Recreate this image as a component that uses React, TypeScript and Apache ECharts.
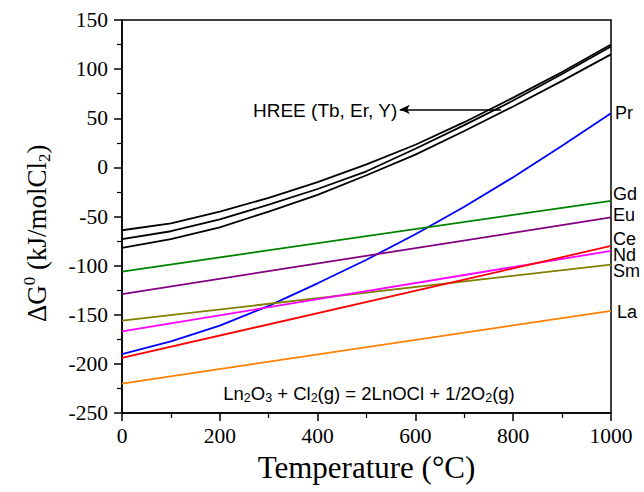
import React, { useEffect, useRef } from "react";
import * as echarts from "echarts";

const temps = [0, 100, 200, 300, 400, 500, 600, 700, 800, 900, 1000];
const hreeA = [-64, -57, -45, -31, -15, 3, 23, 46, 71, 97, 125];
const hreeB = [-73, -65, -53, -38, -22, -4, 19, 43, 68, 95, 123];
const hreeC = [-82, -73, -61, -45, -28, -8, 13, 37, 62, 88, 115];
const prVals = [-190, -177, -161, -141, -118, -94, -68, -40, -10, 22, 55];

const endTemps = [0, 1000];
const gdVals = [-106, -34];
const euVals = [-129, -51];
const smVals = [-156, -99];
const ndVals = [-167, -85];
const ceVals = [-194, -80];
const laVals = [-220, -146];

const arrowFrom = [775, 59];
const arrowTo = [568, 59];

const SERIF = "'Liberation Serif', 'Times New Roman', serif";
const SANS = "'Liberation Sans', Arial, sans-serif";

function pairs(xs: number[], ys: number[]) {
  return xs.map((x, i) => [x, ys[i]]);
}

function lineSeries(name: string, xs: number[], ys: number[], color: string, extra: any = {}) {
  return {
    name,
    type: "line",
    data: pairs(xs, ys),
    symbol: "none",
    smooth: false,
    lineStyle: { color, width: 1.8 },
    itemStyle: { color },
    z: 3,
    ...extra,
  };
}

export default function App() {
  const ref = useRef<HTMLDivElement>(null);
  useEffect(() => {
    if (!ref.current) return;
    document.body.style.margin = "0";
    const chart = echarts.init(ref.current, undefined, { renderer: "svg" });
    const rightLabels = [
      { t: "Pr", x: 615, y: 113 },
      { t: "Gd", x: 613, y: 194 },
      { t: "Eu", x: 613, y: 215 },
      { t: "Ce", x: 613, y: 239 },
      { t: "Nd", x: 613, y: 255 },
      { t: "Sm", x: 613, y: 271 },
      { t: "La", x: 617, y: 312 },
    ];
    chart.setOption({
      animation: false,
      backgroundColor: "#ffffff",
      grid: {
        left: 122,
        right: 33,
        top: 20,
        bottom: 79,
        show: true,
        borderColor: "#000",
        borderWidth: 1.5,
        backgroundColor: "transparent",
      },
      xAxis: {
        type: "value",
        min: 0,
        max: 1000,
        interval: 200,
        name: "Temperature (°C)",
        nameLocation: "middle",
        nameGap: 39,
        nameTextStyle: { fontFamily: SERIF, fontSize: 31, color: "#000" },
        axisLine: { show: true, onZero: false, lineStyle: { color: "#000", width: 1.5 } },
        axisTick: { show: true, inside: false, length: 8, lineStyle: { color: "#000", width: 1.5 } },
        minorTick: { show: true, splitNumber: 2, length: 5, lineStyle: { color: "#000", width: 1.2 } },
        axisLabel: {
          fontFamily: SERIF,
          fontSize: 21.5,
          color: "#000",
          margin: 12,
          formatter: (v: number) => String(v),
        },
        splitLine: { show: false },
      },
      yAxis: {
        type: "value",
        min: -250,
        max: 150,
        interval: 50,
        axisLine: { show: true, onZero: false, lineStyle: { color: "#000", width: 1.5 } },
        axisTick: { show: true, inside: false, length: 8, lineStyle: { color: "#000", width: 1.5 } },
        minorTick: { show: true, splitNumber: 2, length: 5, lineStyle: { color: "#000", width: 1.2 } },
        axisLabel: {
          fontFamily: SERIF,
          fontSize: 21.5,
          color: "#000",
          margin: 14,
          formatter: (v: number) => String(v),
        },
        splitLine: { show: false },
      },
      series: [
        lineSeries("HREE A", temps, hreeA, "#000000", {
          markLine: {
            silent: true,
            symbol: ["none", "arrow"],
            symbolSize: [7, 10],
            label: { show: false },
            lineStyle: { color: "#000", width: 1.5, type: "solid" },
            data: [[{ coord: arrowFrom }, { coord: arrowTo }]],
          },
        }),
        lineSeries("HREE B", temps, hreeB, "#000000"),
        lineSeries("HREE C", temps, hreeC, "#000000"),
        lineSeries("Pr", temps, prVals, "#0000ff"),
        lineSeries("Gd", endTemps, gdVals, "#008000"),
        lineSeries("Eu", endTemps, euVals, "#800080"),
        lineSeries("Sm", endTemps, smVals, "#808000"),
        lineSeries("Nd", endTemps, ndVals, "#ff00ff"),
        lineSeries("Ce", endTemps, ceVals, "#ff0000"),
        lineSeries("La", endTemps, laVals, "#ff8000"),
      ],
      graphic: [
        {
          type: "text",
          x: 37,
          y: 322,
          rotation: Math.PI / 2,
          style: {
            text: "{a|ΔG}{sup|0}{a| (kJ/molCl}{sub|2}{a|)}",
            textAlign: "left",
            textVerticalAlign: "middle",
            rich: {
              a: { fontFamily: SERIF, fontSize: 27, fill: "#000" },
              sup: { fontFamily: SERIF, fontSize: 17, fill: "#000", padding: [0, 0, 16, 0] },
              sub: { fontFamily: SERIF, fontSize: 17, fill: "#000", padding: [14, 0, 0, 0] },
            },
          },
          z: 10,
        },
        ...rightLabels.map((l) => ({
          type: "text",
          x: l.x,
          y: l.y,
          style: {
            text: l.t,
            font: `18px ${SANS}`,
            fill: "#000",
            textAlign: "left",
            textVerticalAlign: "middle",
          },
          z: 10,
        })),
        {
          type: "text",
          x: 253,
          y: 110,
          style: {
            text: "HREE (Tb, Er, Y)",
            font: `19px ${SANS}`,
            fill: "#000",
            textAlign: "left",
            textVerticalAlign: "middle",
          },
          z: 10,
        },
        {
          type: "text",
          x: 369,
          y: 393,
          style: {
            text: "{a|Ln}{s|2}{a|O}{s|3}{a| + Cl}{s|2}{a|(g) = 2LnOCl + 1/2O}{s|2}{a|(g)}",
            textAlign: "center",
            textVerticalAlign: "middle",
            rich: {
              a: { fontFamily: SANS, fontSize: 18.5, fill: "#000" },
              s: { fontFamily: SANS, fontSize: 12.5, fill: "#000", padding: [10, 0, 0, 0] },
            },
          },
          z: 10,
        },
      ],
    });
    return () => chart.dispose();
  }, []);
  return <div ref={ref} style={{ width: 644, height: 492 }} />;
}
